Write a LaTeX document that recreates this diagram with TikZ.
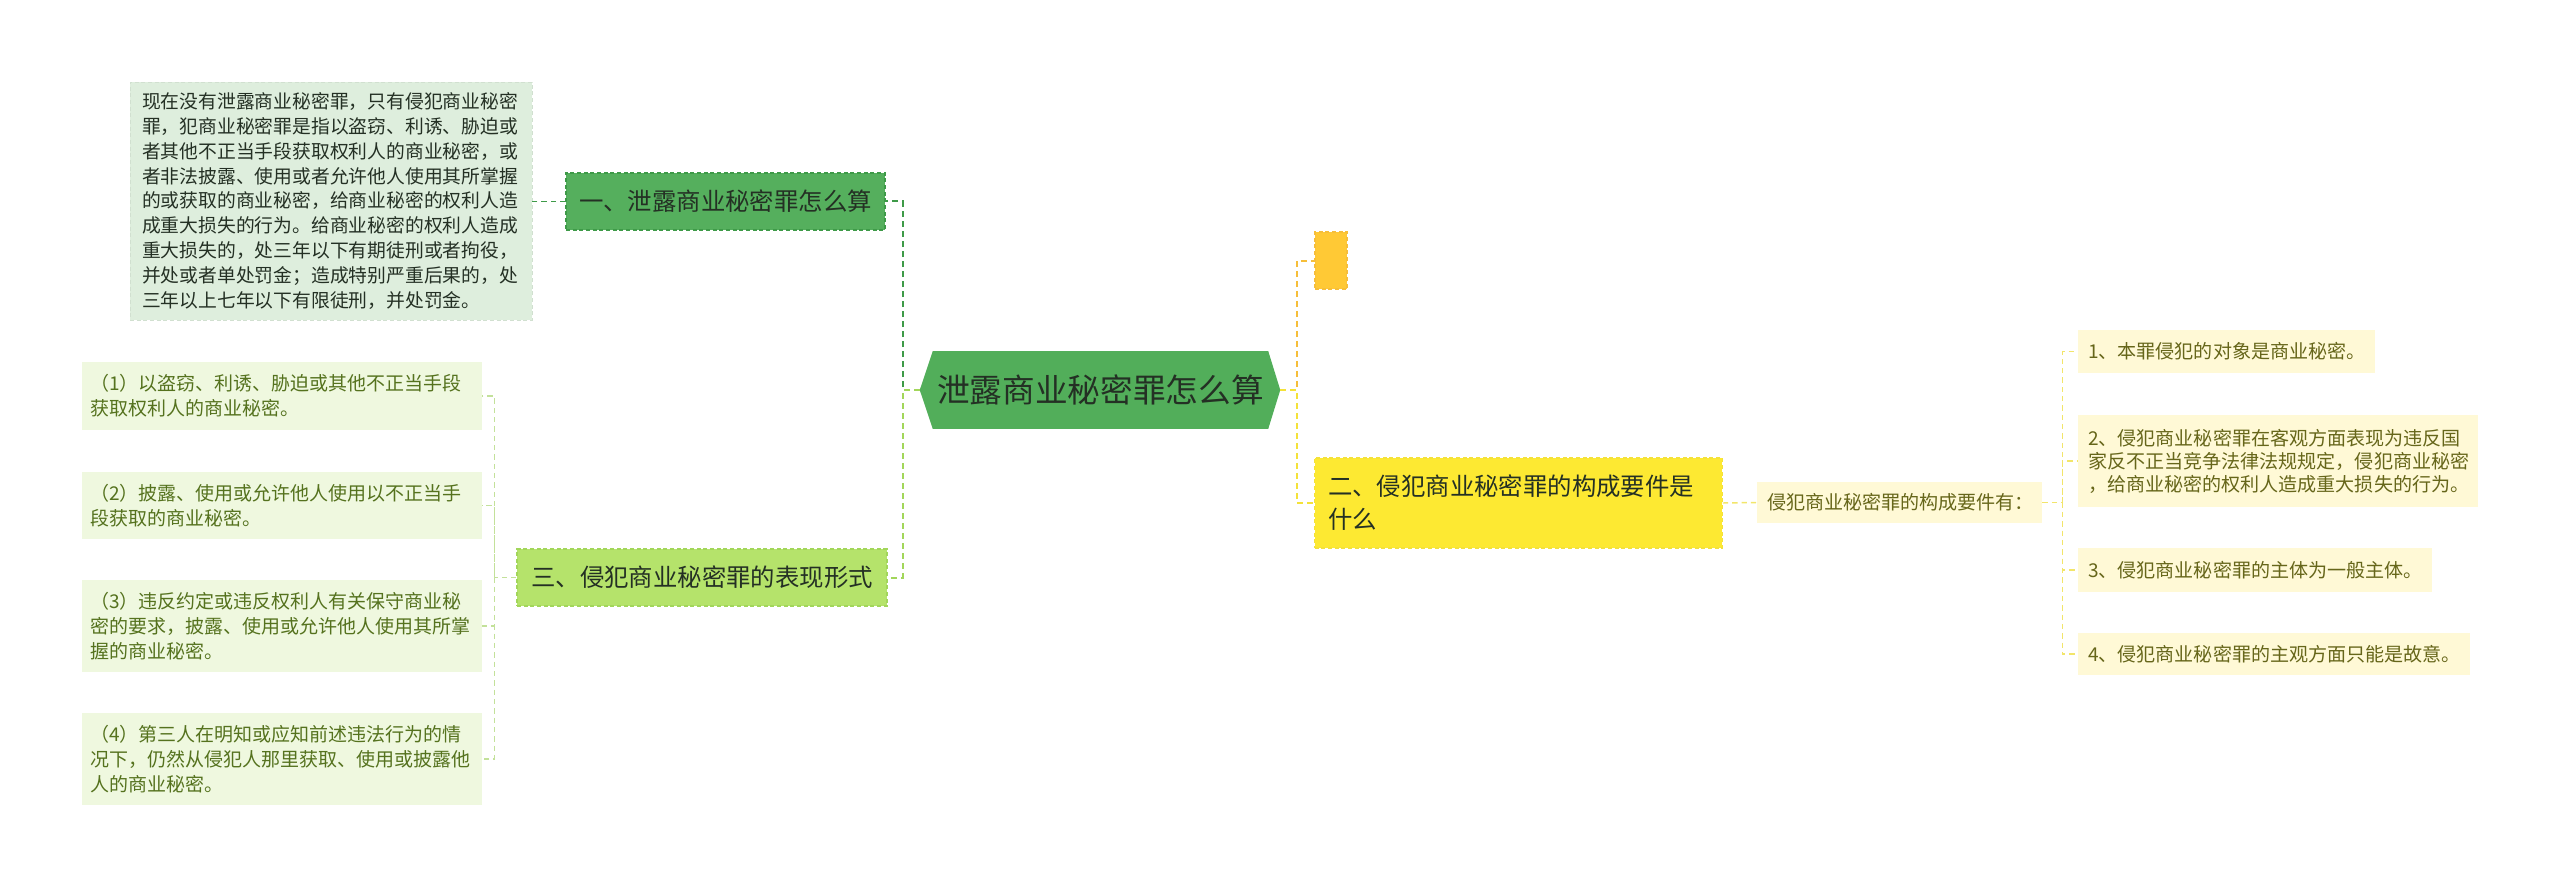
\documentclass[tikz,border=0pt]{standalone}
\usepackage{fontspec}
\setmainfont{Noto Sans CJK SC}
\usetikzlibrary{calc,backgrounds}

\definecolor{rootgreen}{HTML}{52AE5A}
\definecolor{darkgreen}{HTML}{55AF5D}
\definecolor{darkgreenline}{HTML}{3E9A48}
\definecolor{limegreen}{HTML}{B5E36B}
\definecolor{limeline}{HTML}{A2D65A}
\definecolor{notegreen}{HTML}{DEEEDD}
\definecolor{leafgreen}{HTML}{EFF8DF}
\definecolor{leaftext}{HTML}{55721E}
\definecolor{orangebox}{HTML}{FFC935}
\definecolor{orangeline}{HTML}{F6BE3A}
\definecolor{yellowbox}{HTML}{FDE932}
\definecolor{yellowline}{HTML}{F4E23A}
\definecolor{leafyellow}{HTML}{FFF9D6}
\definecolor{yellowtext}{HTML}{66661A}
\definecolor{leafyline}{HTML}{F2E56A}
\definecolor{leafgline}{HTML}{C3E19A}
\definecolor{darktext}{HTML}{243024}

\tikzset{
  roottext/.style={rectangle, inner sep=0pt, minimum width=251.25pt, minimum height=57.75pt,
    text=darktext, font=\fontsize{24.5}{29}\selectfont},
  mainbox/.style={rectangle, inner sep=0pt, dash pattern=on 3pt off 2pt, line width=0.8pt,
    text=darktext, font=\fontsize{18.3}{24.75}\selectfont},
  notebox/.style={rectangle, fill=notegreen, draw=notegreen!85!black!40!notegreen, dash pattern=on 3pt off 2pt,
    inner xsep=9pt, inner ysep=0pt, text width=283.5pt, align=left, minimum height=178.5pt,
    text=darktext, font=\fontsize{14.1}{18.6}\selectfont},
  gleaf/.style={rectangle, fill=leafgreen, inner xsep=6pt, inner ysep=0pt, text width=288pt,
    align=left, text=leaftext, font=\fontsize{14.25}{18.75}\selectfont},
  yleaf/.style={rectangle, fill=leafyellow, inner xsep=7.5pt, inner ysep=0pt,
    align=left, text=yellowtext, font=\fontsize{14.3}{17.25}\selectfont},
  link/.style={dash pattern=on 4.5pt off 3pt, line width=1.5pt},
  leaflink/.style={dash pattern=on 4pt off 3pt, line width=1.1pt}
}

\begin{document}
\begin{tikzpicture}[x=0.75pt, y=-0.75pt]
  \useasboundingbox (0,0) rectangle (2560,888);

  %%%%% root %%%%%
  \node[roottext] (root) at (1100.5,390) {泄露商业秘密罪怎么算};
  \coordinate (rootW) at ($(root.west)+(-13,0)$);
  \coordinate (rootE) at ($(root.east)+(12,0)$);
  \begin{scope}[on background layer]
    \fill[rootgreen] (rootW) -- (root.north west) -- (root.north east) -- (rootE)
      -- (root.south east) -- (root.south west) -- cycle;
  \end{scope}

  %%%%% left branches %%%%%
  \node[mainbox, fill=darkgreen, draw=darkgreenline, minimum width=239.25pt, minimum height=42.75pt]
    (n1) at (725.5,201.5) {一、泄露商业秘密罪怎么算};
  \node[notebox] (t1) at (331,201) {现在没有泄露商业秘密罪，只有侵犯商业秘密\\
    罪，犯商业秘密罪是指以盗窃、利诱、胁迫或\\
    者其他不正当手段获取权利人的商业秘密，或\\
    者非法披露、使用或者允许他人使用其所掌握\\
    的或获取的商业秘密，给商业秘密的权利人造\\
    成重大损失的行为。给商业秘密的权利人造成\\
    重大损失的，处三年以下有期徒刑或者拘役，\\
    并处或者单处罚金；造成特别严重后果的，处\\
    三年以上七年以下有限徒刑，并处罚金。};

  \node[mainbox, fill=limegreen, draw=limeline, minimum width=277.5pt, minimum height=42.75pt]
    (n3) at (702,577.5) {三、侵犯商业秘密罪的表现形式};
  \node[gleaf, minimum height=51pt] (l1) at (282,396) {（1）以盗窃、利诱、胁迫或其他不正当手段\\获取权利人的商业秘密。};
  \node[gleaf, minimum height=50.25pt] (l2) at (282,505.5) {（2）披露、使用或允许他人使用以不正当手\\段获取的商业秘密。};
  \node[gleaf, minimum height=69pt] (l3) at (282,626) {（3）违反约定或违反权利人有关保守商业秘\\密的要求，披露、使用或允许他人使用其所掌\\握的商业秘密。};
  \node[gleaf, minimum height=69pt] (l4) at (282,759) {（4）第三人在明知或应知前述违法行为的情\\况下，仍然从侵犯人那里获取、使用或披露他\\人的商业秘密。};

  %%%%% right branches %%%%%
  \node[mainbox, fill=orangebox, draw=orangeline, minimum width=24pt, minimum height=42.75pt]
    (s0) at (1331,260.5) {};
  \node[mainbox, fill=yellowbox, draw=yellowline, inner xsep=10pt, text width=285.75pt, align=left,
    minimum height=67.5pt] (n2) at (1518.5,503) {二、侵犯商业秘密罪的构成要件是\\什么};
  \node[yleaf, text width=198.75pt, minimum height=30.75pt]
    (k) at (1899.5,502.5) {侵犯商业秘密罪的构成要件有：};
  \node[yleaf, text width=207.75pt, minimum height=32.25pt] (r1) at (2226.5,351.5) {1、本罪侵犯的对象是商业秘密。};
  \node[yleaf, text width=285pt, minimum height=69pt] (r2) at (2278,461) {2、侵犯商业秘密罪在客观方面表现为违反国\\家反不正当竞争法律法规规定，侵犯商业秘密\\，给商业秘密的权利人造成重大损失的行为。};
  \node[yleaf, text width=250.5pt, minimum height=33pt] (r3) at (2255,570) {3、侵犯商业秘密罪的主体为一般主体。};
  \node[yleaf, text width=279pt, minimum height=31.5pt] (r4) at (2274,654) {4、侵犯商业秘密罪的主观方面只能是故意。};

  %%%%% connectors %%%%%
  \draw[link, darkgreenline] (rootW) -- ++(-17,0) |- (n1.east);
  \draw[link, limeline] (rootW) -- ++(-17,0) |- (n3.east);
  \draw[leaflink, darkgreenline] (n1.west) -- (n1.west -| t1.east);
  \draw[leaflink, leafgline] (n3.west) -- ++(-22,0) coordinate (j3) |- (l1.east);
  \foreach \leaf in {l2,l3,l4}
    \draw[leaflink, leafgline] (j3) |- (\leaf.east);

  \draw[link, orangeline] (rootE) -- ++(17,0) |- (s0.west);
  \draw[link, yellowline] (rootE) -- ++(17,0) |- (n2.west);
  \draw[leaflink, leafyline] (n2.east) -- (k.west);
  \draw[leaflink, leafyline] (k.east) -- ++(20,0) coordinate (jk) |- (r1.west);
  \foreach \leaf in {r2,r3,r4}
    \draw[leaflink, leafyline] (jk) |- (\leaf.west);
\end{tikzpicture}
\end{document}
